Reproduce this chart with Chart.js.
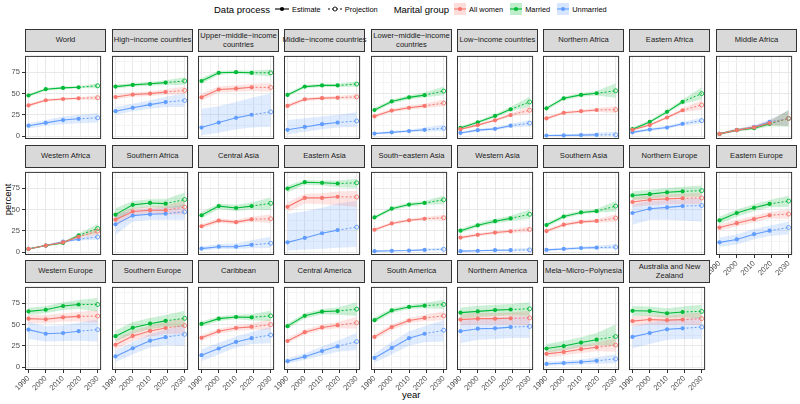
<!DOCTYPE html>
<html>
<head>
<meta charset="utf-8">
<script src="https://cdn.jsdelivr.net/npm/chart.js@4.4.1/dist/chart.umd.min.js"></script>
<style>
  body { margin: 0; background: #fff; font-family: "Liberation Sans", Arial, sans-serif; }
  #wrap { position: relative; width: 800px; height: 404px; overflow: hidden; }
  canvas { position: absolute; }
  .strip {
    position: absolute; box-sizing: border-box; border: 1px solid #333; background: #d9d9d9;
    color: #1a1a1a; font-size: 7.6px; line-height: 8.6px; text-align: center; white-space: pre;
    display: flex; align-items: center; justify-content: center;
  }
  #legend { position: absolute; left: 214px; top: 2px; height: 14px; display: flex; align-items: center; white-space: nowrap; }
  #legend .t { font-size: 9.5px; color: #000; margin-right: 5px; }
  #legend .l { font-size: 7.4px; color: #000; margin: 0 7px 0 3px; }
  #legend .t2 { margin-left: 9px; }
  #legend svg { display: block; }
  .axt { position: absolute; font-size: 9.5px; color: #000; }
</style>
</head>
<body>
<div id="wrap">
  <div id="legend">
    <span class="t">Data process</span>
    <svg width="14" height="10"><line x1="0" y1="5" x2="14" y2="5" stroke="#000" stroke-width="1.1"/><circle cx="7" cy="5" r="2.1" fill="#000"/></svg>
    <span class="l">Estimate</span>
    <svg width="14" height="10"><line x1="0" y1="5" x2="14" y2="5" stroke="#000" stroke-width="1" stroke-dasharray="2,2"/><circle cx="7" cy="5" r="2" fill="#fff" stroke="#000" stroke-width="0.9"/></svg>
    <span class="l">Projection</span>
    <span class="t t2">Marital group</span>
    <svg width="12" height="12"><rect x="0" y="0" width="12" height="12" fill="rgba(248,118,109,0.25)"/><line x1="0" y1="6" x2="12" y2="6" stroke="#F8766D" stroke-width="1.1"/><circle cx="6" cy="6" r="2.1" fill="#F8766D"/></svg>
    <span class="l">All women</span>
    <svg width="12" height="12"><rect x="0" y="0" width="12" height="12" fill="rgba(0,186,56,0.25)"/><line x1="0" y1="6" x2="12" y2="6" stroke="#00BA38" stroke-width="1.1"/><circle cx="6" cy="6" r="2.1" fill="#00BA38"/></svg>
    <span class="l">Married</span>
    <svg width="12" height="12"><rect x="0" y="0" width="12" height="12" fill="rgba(97,156,255,0.25)"/><line x1="0" y1="6" x2="12" y2="6" stroke="#619CFF" stroke-width="1.1"/><circle cx="6" cy="6" r="2.1" fill="#619CFF"/></svg>
    <span class="l">Unmarried</span>
  </div>
  <div class="axt" style="left:-8px;top:194px;transform:rotate(-90deg);">percent</div>
  <div class="axt" style="left:402px;top:389px;">year</div>
</div>
<script>
// Facet titles, in panel order (9 per row)
const regions = [
  "World", "High-income countries", "Upper-middle-income countries", "Middle-income countries",
  "Lower-middle-income countries", "Low-income countries", "Northern Africa", "Eastern Africa", "Middle Africa",
  "Western Africa", "Southern Africa", "Central Asia", "Eastern Asia", "South-eastern Asia",
  "Western Asia", "Southern Asia", "Northern Europe", "Eastern Europe",
  "Western Europe", "Southern Europe", "Caribbean", "Central America", "South America",
  "Northern America", "Mela-Micro-Polynesia", "Australia and New Zealand"
];

// estimates at the first four years, projection at the last
const years = [1990, 2000, 2010, 2019, 2030];
const xTicks = [1990, 1995, 2000, 2005, 2010, 2015, 2020, 2025, 2030];
const yTicks = [0, 12.5, 25, 37.5, 50, 62.5, 75, 87.5];

// All women
const allWomen = [
  [36, 42, 43.5, 44.3, 45], [45.8, 48.7, 49.8, 51.7, 53.5], [45.4, 54.6, 55.7, 57.2, 57], [35.4, 43.2, 44.5, 45, 46],
  [23.2, 29.9, 33.2, 35.4, 38.7], [8.1, 12.9, 18.5, 24.7, 30.3], [20.7, 27.3, 29.2, 30.6, 31], [7.4, 12.9, 21.8, 30.3, 36.5],
  [2.6, 7, 10.2, 15.3, 20.7],
  [3.7, 7.7, 11.4, 18, 24.4], [38, 47.6, 49.1, 49.1, 52.8], [30.3, 36.9, 35.1, 38.4, 39.1], [53.1, 63.5, 63.5, 64.9, 64.6],
  [26.2, 33.6, 37.3, 39.1, 40.2], [17, 20.3, 22.9, 24.4, 26.6], [24.7, 32.1, 35.4, 36.5, 39.9], [58.7, 61.3, 62.4, 63.1, 63.5],
  [28.8, 33.9, 38.7, 43.2, 44.6],
  [56.8, 56.1, 58.3, 59.4, 59.8], [26.2, 36.5, 42.4, 45.8, 48.7], [34.3, 42.1, 45.8, 47.2, 49.8], [30.6, 40.9, 46.5, 49.1, 52],
  [35.4, 46.9, 54.6, 57.6, 60.1], [55.7, 56.8, 56.8, 57.2, 57.6], [15.5, 17.7, 21, 23.2, 25.8], [53.9, 55.7, 55, 55.7, 56.8]
];
const allWomenLow = [
  [34, 40.5, 42, 43, 42], [43, 46, 47, 48.5, 49], [41, 51, 52, 53, 52], [33, 41, 42.5, 43, 43],
  [21, 28, 31, 33, 35], [6.5, 11.5, 17, 23, 26], [19, 25.5, 27.5, 28.5, 27], [6, 11.5, 20, 28, 31],
  [1.5, 5.5, 8.5, 12.5, 12],
  [3, 6.8, 10.3, 16.5, 20], [30, 43, 45, 44, 44], [27.5, 34.5, 32.5, 35.5, 34], [47, 57, 56, 55, 53],
  [24.5, 32, 35.5, 37.5, 37], [15, 18.5, 21, 22.5, 23.5], [22.5, 30, 33.5, 34.5, 35.5], [53, 55, 56, 56.5, 56],
  [25, 30, 35, 39.5, 39],
  [52, 51.5, 53.5, 53.5, 52], [20, 30.5, 36, 39, 39], [31, 39, 42.5, 43.5, 44], [28, 38, 43.5, 45.5, 45],
  [32, 43.5, 51.5, 54, 55], [49, 50, 50, 50, 49], [11.5, 13.5, 16.5, 18.5, 18], [48, 50, 49.5, 50, 49]
];
const allWomenHigh = [
  [38, 43.5, 45, 45.5, 48], [48.5, 51, 52.5, 55, 58], [50, 58, 59.5, 61, 62], [38, 45, 46.5, 47, 49],
  [25.5, 32, 35.5, 38, 43], [9.5, 14.5, 20, 26.5, 35], [22.5, 29, 31, 33, 35], [9, 14.5, 23.5, 32.5, 42],
  [3.5, 8.5, 12.5, 18.5, 30],
  [4.4, 8.6, 12.5, 19.5, 29], [45, 52, 53.5, 54, 61], [33, 39.5, 38, 41.5, 44], [58, 68, 69, 71, 72],
  [28, 35.2, 39, 41, 43.5], [19, 22, 24.8, 26.5, 30], [27, 34, 37.5, 38.5, 44.5], [64, 66.5, 67.5, 68.5, 70],
  [32.5, 37.5, 42.5, 47, 50],
  [61.5, 61, 63, 64.5, 67], [32.5, 42.5, 48.5, 52.5, 58], [37.5, 45, 49, 51, 56], [33.5, 44, 49.5, 53, 59],
  [38.5, 50, 57.5, 61, 65.5], [62, 63, 63.5, 64, 66], [19.5, 22, 25.5, 28.5, 34], [59.5, 61, 60.5, 62, 64]
];

// Married
const married = [
  [47.6, 55, 56.5, 57.2, 59], [58, 60, 61.3, 62.7, 64.6], [64.6, 74.2, 74.9, 74.2, 74.2], [48.3, 58, 59.4, 59.4, 60.9],
  [30.6, 40.6, 45.4, 48, 52.8], [9.6, 16.2, 23.6, 31.4, 40], [32.5, 44.3, 48.3, 50.2, 53.1], [8.1, 16.6, 28.4, 40.2, 49.8],
  [2.6, 7, 9.2, 14.4, 20.7],
  [3.7, 7.7, 10.7, 19.6, 27.7], [43.9, 55.4, 57.6, 56.8, 61.6], [43.2, 53.9, 51.7, 53.9, 57.2], [74.5, 81.9, 81.2, 80.4, 81.2],
  [40.6, 50.9, 55.7, 57.6, 61.3], [25.1, 31.4, 36.2, 39.5, 44.3], [31.7, 41.7, 46.5, 48, 53.9], [66.4, 67.9, 70.1, 71.2, 72],
  [37.3, 45.8, 52, 56.5, 59.8],
  [65.3, 67.2, 71.6, 73.4, 73.4], [36.2, 46.1, 50.9, 54.2, 57.2], [50.6, 56.8, 58.7, 58.3, 60.1], [48, 60.1, 65, 65.7, 67.9],
  [55, 66.4, 70.5, 72, 73.4], [63.8, 65.3, 66.8, 67.5, 68.3], [21.8, 24.7, 28.8, 32.1, 35.8], [66, 65.7, 63.1, 64.6, 65.3]
];
const marriedLow = [
  [45.5, 53.5, 55, 56, 56], [55.5, 58, 59, 60, 60], [61, 72, 73, 71.5, 70], [46, 56, 57.5, 57.5, 58],
  [28.5, 38.5, 43, 45.5, 48], [8, 14.5, 21.5, 29, 34], [30.5, 42, 46, 47.5, 45], [6.5, 15, 26.5, 37.5, 43],
  [1.5, 5.5, 7.5, 11.5, 11],
  [3, 6.8, 9.5, 18, 22], [36, 50.5, 52.5, 51.5, 53], [39.5, 50.5, 48, 50, 49], [70, 79, 78, 76, 75],
  [38.5, 49, 53.5, 55.5, 56], [22.5, 29, 33.5, 36.5, 39], [29.5, 39.5, 44.5, 46, 47.5], [61, 62.5, 64.5, 65, 65],
  [33, 41.5, 48, 52.5, 53],
  [61, 63, 67, 68, 65], [29.5, 39.5, 44.5, 47, 47], [47.5, 54, 56, 54.5, 54], [45, 57, 62, 61.5, 60],
  [52, 63.5, 68, 69, 68], [57, 58.5, 60, 60.5, 60], [17, 19.5, 23.5, 26, 25], [60, 60, 57.5, 58.5, 57]
];
const marriedHigh = [
  [49.5, 56.5, 58, 58.5, 62], [60.5, 62, 63.5, 65.5, 69], [68, 76.5, 77, 77, 78], [50.5, 60, 61.5, 61.5, 64],
  [33, 43, 48, 51, 58], [11.5, 18, 26, 34, 46], [34.5, 46.5, 50.5, 53, 62], [10, 18.5, 30.5, 43, 57],
  [3.5, 8.5, 11.5, 17.5, 31],
  [4.4, 8.6, 12, 21.5, 33], [51.5, 60, 62, 62, 70], [47, 57, 55.5, 58, 64], [78, 84.5, 84, 84, 86],
  [42.5, 53, 58, 60, 66], [27.5, 34, 39, 42.5, 50], [34, 44, 48.5, 50.5, 60], [71, 73, 75, 76.5, 78],
  [41.5, 50, 56, 61, 66],
  [69.5, 71.5, 76, 78.5, 81], [43, 53, 57.5, 61, 66], [53.5, 59.5, 61.5, 62, 66], [51, 63, 68, 70, 76],
  [58, 69, 73, 75, 79], [70, 72, 73, 74, 76], [27, 30.5, 35, 40, 50], [71.5, 71, 69, 71, 73]
];

// Unmarried
const unmarried = [
  [12.2, 15.5, 18.8, 20.3, 21.4], [29.2, 33.2, 36.9, 39.9, 41.7], [10, 15.9, 21.4, 25, 28.4], [7.4, 10.7, 14, 15.9, 17.7],
  [3, 4.4, 5.9, 7.4, 9.2], [3.7, 7, 8.5, 12.2, 15.1], [0.7, 0.8, 1.2, 1.4, 1.5], [4.4, 7.7, 10, 14.4, 18.1],
  [2.6, 7, 10.7, 16.6, 20.7],
  [3.7, 7.7, 12.2, 15.1, 17.7], [32.5, 42.8, 44.3, 45, 47.2], [4.1, 6.3, 6.3, 8.5, 10.3], [11.4, 16.6, 22.1, 25.8, 29.2],
  [1.1, 1.5, 1.8, 2.6, 3.3], [1.1, 1.5, 2.2, 2.2, 2.6], [2.6, 3.7, 4.8, 5.2, 5.9], [45.8, 50.9, 52.4, 53.9, 54.6],
  [11.4, 14.8, 21, 25.1, 28.8],
  [43.9, 39.1, 39.9, 42.1, 43.9], [12.5, 22.1, 31, 35.1, 38.4], [14, 21.8, 29.5, 33.9, 37.6], [7, 12.2, 18.8, 24.4, 29.9],
  [10.7, 22.5, 33.9, 39.1, 43.2], [42.1, 45, 45.4, 46.9, 47.6], [3.7, 4.8, 5.9, 7.4, 9.6], [35.4, 39.9, 44.3, 45.4, 46.9]
];
const unmarriedLow = [
  [9, 12, 14, 15, 16], [25, 29, 32, 34, 34], [1, 4, 8, 10, 11], [2, 5, 8, 10, 11],
  [2, 3, 4.5, 5.5, 6], [2.5, 5.5, 7, 10, 11.5], [0.2, 0.3, 0.5, 0.6, 0.5], [3, 6, 8.5, 12.5, 15],
  [1.5, 5.5, 9, 13.5, 12],
  [3, 6.8, 11, 13.5, 14.5], [20, 36, 38, 38, 38], [2, 3.5, 3.5, 4.5, 4.5], [2, 3, 4, 5, 6],
  [0.5, 0.8, 1, 1.5, 1.5], [0.4, 0.6, 1, 1, 1], [1.5, 2.5, 3.3, 3.6, 3.5], [32, 38, 38, 37, 36],
  [6, 9, 15, 19, 21],
  [33, 30, 30.5, 31, 30], [6, 15, 23, 26, 25], [7, 15, 23, 27, 28], [4, 8.5, 13.5, 18, 20],
  [5, 15, 25, 29, 30], [28, 32, 33, 34, 34], [1.5, 2.3, 3, 4, 4.5], [22, 27, 32, 33, 33]
];
const unmarriedHigh = [
  [15, 19, 23, 25, 27], [34, 38, 42, 46, 50], [32, 35, 40, 45, 50], [19, 21, 23, 25, 28],
  [4.5, 6, 7.5, 10, 13], [5, 8.5, 10.5, 14.5, 19], [1.5, 2, 3, 4, 5], [6, 9.5, 12, 16.5, 21.5],
  [3.5, 8.5, 12.5, 19.5, 30],
  [4.4, 8.6, 13.5, 16.8, 21.5], [44, 49, 51, 52, 56], [6.5, 9.5, 10, 14, 18], [45, 48, 52, 57, 60],
  [1.8, 2.3, 2.8, 3.8, 5.5], [2, 2.5, 3.5, 4, 5], [3.8, 5, 6.5, 7.5, 9.5], [56, 60, 61, 62, 63],
  [17, 20.5, 27, 31, 36],
  [53, 48, 49, 52, 56], [19.5, 29.5, 38.5, 44, 50], [21, 28.5, 36, 41, 47], [10, 16, 24, 31, 40],
  [16, 29.5, 42, 48, 55], [54, 57, 58, 59, 60], [6.5, 7.5, 9, 11.5, 15], [48, 52, 56, 57, 59]
];

const groups = [
  { mid: allWomen, low: allWomenLow, high: allWomenHigh, color: "#F8766D", band: "rgba(248,118,109,0.2)" },
  { mid: married, low: marriedLow, high: marriedHigh, color: "#00BA38", band: "rgba(0,186,56,0.2)" },
  { mid: unmarried, low: unmarriedLow, high: unmarriedHigh, color: "#619CFF", band: "rgba(97,156,255,0.2)" }
];

Chart.defaults.font.family = "'Liberation Sans', Arial, sans-serif";

// frame around each panel
const panelFrame = {
  id: "panelFrame",
  afterDraw(chart) {
    const { ctx, chartArea: a } = chart;
    ctx.save();
    ctx.strokeStyle = "#333";
    ctx.lineWidth = 1;
    ctx.strokeRect(a.left + 0.5, a.top + 0.5, a.right - a.left - 1, a.bottom - a.top - 1);
    ctx.restore();
  }
};

// strip label as ggplot shows it: minus signs, long names wrapped at the last space
function stripLabel(name) {
  let s = name.replace(/-/g, "\u2212");
  if (s.length > 24) {
    const k = s.lastIndexOf(" ");
    s = s.slice(0, k) + "\n" + s.slice(k + 1);
  }
  return s;
}

const wrap = document.getElementById("wrap");
const panelW = 81, panelH = 88, stripH = 23, axisW = 24, axisH = 34;

const pts = (arr, idx) => idx.map(i => ({ x: years[i], y: arr[i] }));

regions.forEach((name, p) => {
  const row = Math.floor(p / 9), col = p % 9;
  const left = Math.round(25.3 + col * 86.3);
  const stripTop = Math.round(29 + row * 115.5);
  const top = stripTop + 22;
  const showX = p + 9 >= regions.length;
  const showY = col === 0;

  const strip = document.createElement("div");
  strip.className = "strip";
  strip.style.cssText = `left:${left}px;top:${stripTop}px;width:${panelW}px;height:${stripH}px;`;
  strip.textContent = stripLabel(name);
  wrap.appendChild(strip);

  const cv = document.createElement("canvas");
  cv.width = axisW + panelW;
  cv.height = panelH + axisH;
  cv.style.left = (left - axisW) + "px";
  cv.style.top = top + "px";
  wrap.appendChild(cv);

  const datasets = [];
  groups.forEach(g => {
    datasets.push({ data: pts(g.low[p], [0, 1, 2, 3, 4]), borderWidth: 0, pointRadius: 0, fill: false, order: 10 });
    datasets.push({ data: pts(g.high[p], [0, 1, 2, 3, 4]), borderWidth: 0, pointRadius: 0, fill: "-1", backgroundColor: g.band, order: 10 });
  });
  groups.forEach(g => {
    datasets.push({
      data: pts(g.mid[p], [0, 1, 2, 3]), borderColor: g.color, backgroundColor: g.color,
      borderWidth: 1.1, pointRadius: 2.1, pointBorderWidth: 0, order: 1
    });
    datasets.push({
      data: pts(g.mid[p], [3, 4]), borderColor: g.color, borderWidth: 1, borderDash: [2, 2],
      pointRadius: [0, 2], pointBackgroundColor: "rgba(0,0,0,0)", pointBorderColor: g.color,
      pointBorderWidth: 0.9, order: 1
    });
  });

  new Chart(cv, {
    type: "line",
    data: { datasets },
    options: {
      responsive: false,
      animation: false,
      devicePixelRatio: 1,
      layout: { padding: 0 },
      plugins: { legend: { display: false }, tooltip: { enabled: false } },
      scales: {
        x: {
          type: "linear", min: 1988, max: 2032,
          afterBuildTicks: s => { s.ticks = xTicks.map(v => ({ value: v })); },
          afterFit: s => { s.height = axisH; s.paddingLeft = 0; s.paddingRight = 0; },
          border: { display: false },
          grid: {
            color: c => (c.tick && c.tick.value % 10 === 0 ? "#e8e8e8" : "#f4f4f4"),
            tickLength: 3, tickWidth: 1,
            tickColor: c => (showX && c.tick && c.tick.value % 10 === 0 ? "#333" : "rgba(0,0,0,0)")
          },
          ticks: {
            display: showX, autoSkip: false, minRotation: 45, maxRotation: 45, padding: 1,
            color: "#4d4d4d", font: { size: 7.6 },
            callback: v => (v % 10 === 0 ? String(v) : "")
          }
        },
        y: {
          type: "linear", min: -3.4, max: 94,
          afterBuildTicks: s => { s.ticks = yTicks.map(v => ({ value: v })); },
          afterFit: s => { s.width = axisW; s.paddingTop = 0; s.paddingBottom = 0; },
          border: { display: false },
          grid: {
            color: c => (c.tick && c.tick.value % 25 === 0 ? "#e8e8e8" : "#f4f4f4"),
            tickLength: 3, tickWidth: 1,
            tickColor: c => (showY && c.tick && c.tick.value % 25 === 0 ? "#333" : "rgba(0,0,0,0)")
          },
          ticks: {
            display: showY, padding: 2, color: "#4d4d4d", font: { size: 7.6 },
            callback: v => (v % 25 === 0 ? String(v) : "")
          }
        }
      }
    },
    plugins: [panelFrame]
  });
});
</script>
</body>
</html>
